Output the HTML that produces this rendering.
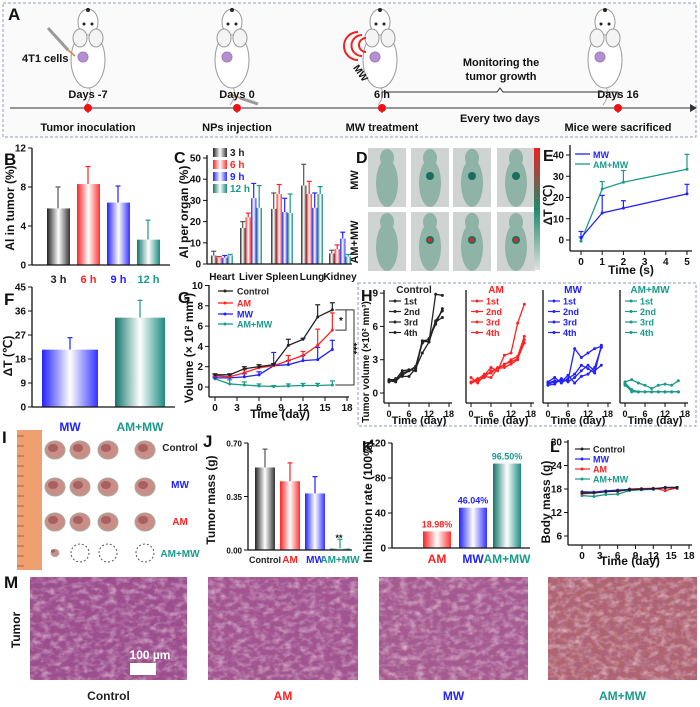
<!DOCTYPE html>
<html><head><meta charset="utf-8">
<style>
body{margin:0;background:#fff}
svg{display:block;font-family:"Liberation Sans",Arial,sans-serif;font-weight:bold}
</style></head>
<body>
<svg id="fig" width="700" height="707" viewBox="0 0 700 707" xmlns="http://www.w3.org/2000/svg">
<defs>
<linearGradient id="gK"><stop offset="0" stop-color="#222"/><stop offset="0.5" stop-color="#fff"/><stop offset="1" stop-color="#333"/></linearGradient>
<linearGradient id="gR"><stop offset="0" stop-color="#f22"/><stop offset="0.5" stop-color="#fff"/><stop offset="1" stop-color="#f33"/></linearGradient>
<linearGradient id="gB"><stop offset="0" stop-color="#22f"/><stop offset="0.5" stop-color="#fff"/><stop offset="1" stop-color="#33f"/></linearGradient>
<linearGradient id="gT"><stop offset="0" stop-color="#14766c"/><stop offset="0.5" stop-color="#fff"/><stop offset="1" stop-color="#1a8a80"/></linearGradient>
<linearGradient id="cbar" x1="0" y1="0" x2="0" y2="1"><stop offset="0" stop-color="#f02020"/><stop offset="0.5" stop-color="#1f8a6a"/><stop offset="1" stop-color="#e0e0e0"/></linearGradient>
<filter id="tex" x="0" y="0" width="1" height="1"><feTurbulence type="fractalNoise" baseFrequency="0.12 0.18" numOctaves="3" seed="4"/><feColorMatrix type="matrix" values="0 0 0 0 1  0 0 0 0 0.88  0 0 0 0 0.95  1.6 0 0 0 -0.65"/></filter>
<filter id="tex2" x="0" y="0" width="1" height="1"><feTurbulence type="fractalNoise" baseFrequency="0.25 0.12" numOctaves="2" seed="9"/><feColorMatrix type="matrix" values="0 0 0 0 0.35  0 0 0 0 0.1  0 0 0 0 0.35  1.5 0 0 0 -0.6"/></filter>
</defs>
</svg>
<script>
const NS='http://www.w3.org/2000/svg';
const svg=document.getElementById('fig');

// ---------- data ----------
const bCats=['3 h','6 h','9 h','12 h'];
const bVals=[5.8,8.3,6.4,2.6];
const bErr=[2.2,1.8,1.7,2.0];
const cCats=['Heart','Liver','Spleen','Lung','Kidney'];
const c3h=[4,17,26,37,5];
const c6h=[3,22,33,33,7];
const c9h=[3,31,24.5,26.5,12];
const c12h=[4,26.5,24,33,3.5];
const cErr3h=[2,3,7.5,10,1.5];
const cErr6h=[0.5,2,4.5,6,2];
const cErr9h=[1,7,6.5,7,3];
const cErr12h=[0.5,10.5,9,3.5,1];
const eTimes=[0,1,2,5];
const eMW=[1,12.7,15,21.7];
const eAMMW=[-0.5,24,27.2,33.3];
const eMWerr=[3,8.3,3.5,4.5];
const eAMMWerr=[2,3.5,5.5,7];
const fCats=['MW','AM+MW'];
const fVals=[21.5,33.5];
const fErr=[4.5,6.5];
const days=[0,2,4,6,8,10,12,14,16];
const gControl=[1.2,1.2,1.8,2.0,2.2,4.1,4.7,6.9,7.6];
const gAM=[1.1,1.0,1.4,1.9,2.1,2.6,3.1,4.1,5.6];
const gMW=[0.9,0.9,1.0,1.2,2.1,2.2,2.6,2.7,3.7];
const gAMMW=[0.8,0.3,0.2,0.1,0.05,0.1,0.15,0.15,0.2];
const gControlErr=[0.1,0.1,0.2,0.2,0.1,0.6,0.1,1.2,0.7];
const gAMErr=[0.1,0.2,0.3,0.3,0.2,0.5,0.4,1.6,1.7];
const gMWErr=[0.1,0.3,0.3,0.3,1.3,0.4,0.5,1.2,0.9];
const gAMMWErr=[0.1,0.4,0.3,0.2,0.1,0.2,0.2,0.2,0.4];
const hControl=[[1.2,1.2,2.0,2.1,2.0,4.7,4.6,8.9,8.8],[1.1,1.1,1.6,2.0,2.3,4.7,4.8,6.5,7.4],[1.0,1.3,1.5,1.5,2.2,3.6,4.6,6.4,6.8],[1.1,1.0,1.8,2.0,2.4,4.5,4.9,6.2,7.6]];
const hAM=[[1.4,0.9,1.6,2.3,2.0,3.4,3.6,6.3,8.0],[1.0,1.2,1.7,1.8,2.3,2.5,3.0,3.3,5.1],[0.9,1.1,1.4,2.0,2.1,2.6,2.8,3.1,4.5],[1.0,1.3,1.5,1.4,2.2,2.3,2.6,3.0,4.8]];
const hMW=[[0.8,1.0,1.2,1.1,4.0,3.2,3.6,4.0,4.2],[1.0,1.4,0.9,1.3,1.7,2.5,2.2,1.8,4.3],[0.7,0.8,1.3,1.0,1.4,2.0,2.5,2.0,2.5],[0.9,1.1,1.0,1.6,0.9,1.5,1.7,2.3,4.1]];
const hAMMW=[[1.0,1.2,0.9,0.7,0.4,0.7,0.8,0.7,1.1],[0.8,0.1,0.1,0.1,0.1,0.1,0.1,0.1,0.1],[0.9,0.3,0.1,0.1,0.1,0.1,0.1,0.1,0.1],[0.7,0.2,0.1,0.1,0.1,0.1,0.1,0.1,0.1]];
const jCats=['Control','AM','MW','AM+MW'];
const jVals=[0.54,0.45,0.37,0.01];
const jErr=[0.12,0.12,0.11,0.06];
const kCats=['AM','MW','AM+MW'];
const kVals=[18.98,46.04,96.5];
const kLabels=['18.98%','46.04%','96.50%'];
const lControl=[17,17,17.3,17.5,17.8,18,18.1,18.3,18.4];
const lMW=[17.3,17.2,17.5,17.7,17.9,17.9,18.0,18.4,18.4];
const lAM=[16.8,17,17.4,17.4,18,18.1,18.2,17.6,18.3];
const lAMMW=[16.3,16.1,16.6,16.7,17.6,17.8,17.9,18.4,18.1];

const K='#222',R='#f22',B='#22f',T='#1a9a8a';

// ---------- helpers ----------
function mk(tag,attrs,name,parent){
  const e=document.createElementNS(NS,tag);
  for(const k in attrs) e.setAttribute(k,attrs[k]);
  
  
  (parent||svg).appendChild(e);
  return e;
}
function tx(x,y,s,size,fill,name,anchor,rot){
  const a={x:x,y:y,'font-size':size,fill:fill||'#111','text-anchor':anchor||'middle'};
  if(rot) a.transform='rotate('+rot+' '+x+' '+y+')';
  const e=mk('text',a,name);
  e.textContent=s;
  return e;
}
function line(x1,y1,x2,y2,st,w,name){return mk('line',{x1:x1,y1:y1,x2:x2,y2:y2,stroke:st,'stroke-width':w||1},name);}
function yAxis(x,y1,y2,ticks,fy,fmt,size,name){
  line(x,y1,x,y2,'#111',1.3,name+'-line');
  ticks.forEach(t=>{const y=fy(t);line(x-4,y,x,y,'#111',1,name+'-tick');tx(x-6,y+3.5,fmt?fmt(t):t,size||10,'#111',name+'-label','end');});
}
function xAxis(y,x1,x2,ticks,fx,size,name){
  line(x1,y,x2,y,'#111',1.3,name+'-line');
  ticks.forEach(t=>{const x=fx(t);line(x,y,x,y+4,'#111',1,name+'-tick');tx(x,y+14,t,size||10,'#111',name+'-label');});
}
function errBar(x,y1,y2,c,name){line(x,y1,x,y2,c,1.2,name);line(x-2.5,y2,x+2.5,y2,c,1.2,name+'-cap');}
function series(fx,fy,xs,ys,c,name,errs){
  const pts=xs.map((d,i)=>fx(d)+','+fy(ys[i])).join(' ');
  mk('polyline',{points:pts,fill:'none',stroke:c,'stroke-width':1.3},name+'-line');
  xs.forEach((d,i)=>{
    if(errs) errBar(fx(d),fy(ys[i]),fy(ys[i]+errs[i]),c,name+'-error');
    mk('circle',{cx:fx(d),cy:fy(ys[i]),r:1.5,fill:c},name+'-point');
  });
}
function letter(x,y,s,sz){tx(x,y,s,sz||17,'#111','panel-letter-'+s,'start');}

// ---------- Panel A ----------
mk('rect',{x:3,y:3,width:693,height:134,fill:'#fafafa',stroke:'#8f9bbd','stroke-dasharray':'3 2'},'panel-a-box');
letter(8,20,'A');
function mouse(cx,name){
  const g=mk('g',{},name);
  mk('path',{d:`M${cx} 85 q6 10 -2 20`,fill:'none',stroke:'#aaa'},name+'-tail',g);
  mk('ellipse',{cx:cx,cy:60,rx:17,ry:28,fill:'#fff',stroke:'#999'},name+'-body',g);
  mk('ellipse',{cx:cx,cy:22,rx:10,ry:13,fill:'#fff',stroke:'#999'},name+'-head',g);
  mk('ellipse',{cx:cx-8,cy:38,rx:7,ry:9,fill:'#f4f4f4',stroke:'#999'},name+'-ear',g);
  mk('ellipse',{cx:cx+8,cy:38,rx:7,ry:9,fill:'#f4f4f4',stroke:'#999'},name+'-ear',g);
  mk('circle',{cx:cx,cy:10,r:2,fill:'#222'},name+'-nose',g);
  mk('circle',{cx:cx-4,cy:24,r:1.5,fill:'#222'},name+'-eye',g);
  mk('circle',{cx:cx+4,cy:24,r:1.5,fill:'#222'},name+'-eye',g);
  mk('circle',{cx:cx-5,cy:57,r:5,fill:'#b58fd0',stroke:'#a07bbf'},name+'-tumor',g);
}
mouse(88,'mouse-inoculation');mouse(232,'mouse-injection');mouse(380,'mouse-mw');mouse(605,'mouse-sacrifice');
line(48,28,68,50,'#999',3,'syringe-1');line(68,50,75,56,'#c84',1.5,'needle-1');
line(240,98,258,104,'#999',3,'syringe-2');line(232,95,240,98,'#c84',1.5,'needle-2');
for(let i=0;i<3;i++){mk('path',{d:`M${366-i*4} ${38-i*3} a${6+i*4} ${6+i*4} 0 0 0 0 ${14+i*7}`,fill:'none',stroke:'#e22','stroke-width':2},'mw-wave');}
tx(358,75,'MW',10,'#111','mw-label','middle',55);
tx(22,62,'4T1 cells',11,'#111','cells-label','start');
line(10,108,690,108,'#333',1,'timeline');
mk('path',{d:'M690 104 L697 108 L690 112 Z',fill:'#333'},'timeline-arrow');
[[88,'Days  -7','Tumor inoculation'],[237,'Days  0','NPs injection'],[382,'6 h','MW treatment'],[618,'Days  16','Mice were sacrificed']].forEach(p=>{
  line(p[0],108,p[0],113,'#333',1,'timeline-tick');
  mk('circle',{cx:p[0],cy:108,r:4,fill:'#e11'},'timeline-dot');
  tx(p[0],98,p[1],11,'#111','timeline-day');
  tx(p[0],131,p[2],11,'#111','timeline-event');
});
mk('path',{d:'M382 98 v-6 H497 l3 -4 l3 4 H618 v6',fill:'none',stroke:'#333'},'monitor-bracket');
tx(501,66,'Monitoring the',11,'#111','monitor-label-1');
tx(501,80,'tumor growth',11,'#111','monitor-label-2');
tx(500,122,'Every two days',11,'#111','every-two-days');

// ---------- Panel B ----------
letter(4,165,'B');
const bY=v=>265-v*117/12;
const bGr=['gK','gR','gB','gT'],bCol=[K,R,B,T];
bVals.forEach((v,i)=>{const x=47+i*30;
  errBar(x+11,bY(v),bY(v+bErr[i]),bCol[i]==K?'#555':bCol[i],'b-error');
  mk('rect',{x:x,y:bY(v),width:23,height:265-bY(v),fill:'url(#'+bGr[i]+')'},'b-bar-'+bCats[i].replace(' ',''));
  tx(x+11.5,283,bCats[i],11,bCol[i],'b-category-label');
});
yAxis(32,148,265,[0,4,8,12],bY,null,10,'b-y-axis');
line(32,265,170,265,'#111',1.3,'b-x-axis');
tx(14,208,'Al in tumor (%)',12,'#111','b-y-title','middle',-90);

// ---------- Panel C ----------
letter(174,163,'C',16);
const cY=v=>264-v*106/50;
const cCenters=[222,251,282,312,340];
const cSeries=[c3h,c6h,c9h,c12h],cErrs=[cErr3h,cErr6h,cErr9h,cErr12h];
cSeries.forEach((s,k)=>{s.forEach((v,i)=>{const x=cCenters[i]-11+k*5.5;
  errBar(x+2.7,cY(v),cY(v+cErrs[k][i]),bCol[k]==K?'#555':bCol[k],'c-error');
  mk('rect',{x:x,y:cY(v),width:5.5,height:264-cY(v),fill:'url(#'+bGr[k]+')'},'c-bar');
});});
yAxis(207,155,264,[0,10,20,30,40,50],cY,null,10,'c-y-axis');
line(207,264,352,264,'#111',1.3,'c-x-axis');
cCats.forEach((c,i)=>tx(cCenters[i],280,c,10,'#111','c-category-label'));
tx(188,212,'Al per organ (%)',12,'#111','c-y-title','middle',-90);
['3 h','6 h','9 h','12 h'].forEach((l,k)=>{
  mk('rect',{x:213,y:148+k*12,width:14,height:9,fill:'url(#'+bGr[k]+')'},'c-legend-swatch');
  tx(230,156+k*12,l,10,bCol[k],'c-legend-label','start');
});

// ---------- Panel D ----------
letter(356,163,'D',16);
tx(358,180,'MW',11,'#111','d-row-label-mw','middle',-90);
tx(358,242,'AM+MW',11,'#111','d-row-label-ammw','middle',-90);
[368,411,453,497].forEach((x,c)=>{[148,212].forEach((y,r)=>{
  mk('rect',{x:x,y:y,width:38,height:59,fill:'#cfd3d1'},'d-image');
  mk('ellipse',{cx:x+19,cy:y+35,rx:11,ry:24,fill:'#8fb3a6'},'d-mouse');
  mk('ellipse',{cx:x+19,cy:y+10,rx:7,ry:9,fill:'#8fb3a6'},'d-mouse-head');
  if(c>0){mk('circle',{cx:x+19,cy:y+28,r:4,fill:'#1b6e5c'},'d-hotspot');
    if(r==1) mk('circle',{cx:x+19,cy:y+28,r:2,fill:'#e22'},'d-hotspot-core');}
});});
mk('rect',{x:534,y:148,width:6,height:122,fill:'url(#cbar)'},'d-colorbar');

// ---------- Panel E ----------
letter(543,161,'E',16);
const eX=t=>581+t*21.2,eY=v=>240-v*85/40;
series(eX,eY,eTimes,eAMMW,T,'e-ammw',eAMMWerr);
series(eX,eY,eTimes,eMW,B,'e-mw',eMWerr);
yAxis(570,145,251,[0,10,20,30,40],eY,null,10,'e-y-axis');
xAxis(251,570,692,[0,1,2,3,4,5],eX,10,'e-x-axis');
tx(631,274,'Time (s)',12,'#111','e-x-title');
tx(552,205,'ΔT (℃)',12,'#111','e-y-title','middle',-90);
line(575,154,590,154,B,1.3,'e-legend-line');tx(593,158,'MW',9,B,'e-legend-label','start');
line(575,164,590,164,T,1.3,'e-legend-line');tx(593,168,'AM+MW',9,T,'e-legend-label','start');

// ---------- Panel F ----------
letter(4,305,'F');
const fY=v=>407-v*96/36;
const fGr=['gB','gT'],fCol=[B,T],fX=[42,115],fW=[56,50];
fVals.forEach((v,i)=>{
  errBar(fX[i]+fW[i]/2,fY(v),fY(v+fErr[i]),fCol[i],'f-error');
  mk('rect',{x:fX[i],y:fY(v),width:fW[i],height:407-fY(v),fill:'url(#'+fGr[i]+')'},'f-bar-'+fCats[i]);
  tx(fX[i]+fW[i]/2,431,fCats[i],12,fCol[i],'f-category-label');
});
yAxis(32,287,407,[0,9,18,27,36,45],fY,null,10,'f-y-axis');
line(32,407,175,407,'#111',1.3,'f-x-axis');
tx(12,356,'ΔT (℃)',12,'#111','f-y-title','middle',-90);

// ---------- Panel G ----------
letter(178,303,'G',16);
const gX=d=>215+d*132/18,gY=v=>387-v*10.15;
series(gX,gY,days,gAMMW,T,'g-ammw',gAMMWErr);
series(gX,gY,days,gMW,B,'g-mw',gMWErr);
series(gX,gY,days,gAM,R,'g-am',gAMErr);
series(gX,gY,days,gControl,K,'g-control',gControlErr);
yAxis(209,285,397,[0,2,4,6,8,10],gY,null,10,'g-y-axis');
xAxis(397,209,349,[0,3,6,9,12,15,18],gX,10,'g-x-axis');
tx(280,418,'Time (day)',12,'#111','g-x-title');
tx(193,348,'Volume (× 10² mm³)',12,'#111','g-y-title','middle',-90);
[['Control',K,291],['AM',R,303],['MW',B,314],['AM+MW',T,324]].forEach(l=>{
  line(218,l[2],233,l[2],l[1],1.3,'g-legend-line');mk('circle',{cx:225,cy:l[2],r:1.5,fill:l[1]},'g-legend-marker');
  tx(237,l[2]+3.5,l[0],9,l[1],'g-legend-label','start');
});
mk('path',{d:`M${gX(16)+3} ${gY(7.6)} H354 V${gY(0.2)} H${gX(16)+3}`,fill:'none',stroke:'#333'},'g-sig-bracket');
mk('path',{d:`M${gX(16)+3} ${gY(5.6)} H346 V${gY(7.6)}`,fill:'none',stroke:'#333'},'g-sig-bracket-inner');
tx(341,gY(6.6)+4,'*',10,'#111','g-sig-star','middle');
tx(350,gY(3.8),'***',10,'#111','g-sig-stars','middle',90);

// ---------- Panel H ----------
mk('rect',{x:358,y:283,width:338,height:143,fill:'none',stroke:'#8f9bbd','stroke-dasharray':'3 2'},'panel-h-box');
letter(361,301,'H',16);
const hY=v=>393-v*11.1;
const hPanels=[[389,'Control',K,hControl],[471,'AM',R,hAM],[548,'MW',B,hMW],[625,'AM+MW',T,hAMMW]];
hPanels.forEach((p,k)=>{
  const x0=p[0],hX=d=>x0+d*60/18;
  tx(x0+25,293,p[1],10,p[2],'h-title');
  p[3].forEach((s,j)=>series(hX,hY,days,s,p[2],'h-'+p[1]+'-run'+(j+1)));
  line(x0-5,290,x0-5,403,'#111',1.3,'h-y-axis-line');
  xAxis(403,x0-5,x0+63,[0,6,12,18],hX,9,'h-x-axis');
  tx(x0+30,424,'Time (day)',11,'#111','h-x-title');
  ['1st','2nd','3rd','4th'].forEach((l,j)=>{const y=301+j*10.5;
    line(x0,y,x0+12,y,p[2],1.2,'h-legend-line');mk('circle',{cx:x0+6,cy:y,r:1.5,fill:p[2]},'h-legend-marker');
    tx(x0+15,y+3.5,l,9,p[2],'h-legend-label','start');});
});
[0,3,6,9].forEach(t=>{line(380,hY(t),384,hY(t),'#111',1,'h-y-tick');tx(378,hY(t)+3.5,t,10,'#111','h-y-label','end');});
tx(369,362,'Tumor volume (×10² mm³)',10,'#111','h-y-title','middle',-90);

// ---------- Panel I ----------
letter(2,443,'I');
mk('rect',{x:17,y:430,width:25,height:140,fill:'#f0a070'},'i-ruler');
for(let i=0;i<14;i++) line(17,436+i*10,24,436+i*10,'#b06040',1,'i-ruler-tick');
const iCols=[55,80,108,145],iRows=[450,487,522,553];
iRows.forEach((y,r)=>iCols.forEach((x,c)=>{
  if(r==3&&c>0){mk('circle',{cx:x,cy:y,r:9,fill:'none',stroke:'#555','stroke-dasharray':'2 2'},'i-empty-site');}
  else{const s=r==3?4:10;mk('ellipse',{cx:x,cy:y,rx:s,ry:s*0.9,fill:'#c98f86',stroke:'#a8a9a0'},'i-tumor');
    mk('ellipse',{cx:x-2,cy:y-2,rx:s*0.5,ry:s*0.4,fill:'#a86060'},'i-tumor-shade');}
}));
[['Control',K,451],['MW',B,488],['AM',R,525],['AM+MW',T,557]].forEach(l=>tx(180,l[2],l[0],10,l[1],'i-label'));

// ---------- Panel J ----------
letter(203,447,'J');
const jY=v=>550-v*107/0.7;
jVals.forEach((v,i)=>{const x=255+i*25;
  errBar(x+10,jY(v),jY(v+jErr[i]),bCol[i]==K?'#555':bCol[i],'j-error');
  mk('rect',{x:x,y:jY(v),width:20,height:550-jY(v),fill:'url(#'+bGr[i]+')'},'j-bar-'+jCats[i]);
  tx(x+10,563,jCats[i],i==0?9:10,bCol[i],'j-category-label');
});
tx(339,541,'**',9,'#111','j-sig-stars');
yAxis(248,443,550,[0,0.35,0.7],jY,t=>t.toFixed(2),8,'j-y-axis');
line(248,550,352,550,'#111',1.3,'j-x-axis');
tx(215,500,'Tumor mass (g)',12,'#111','j-y-title','middle',-90);

// ---------- Panel K ----------
letter(362,452,'K',16);
const kY=v=>548-v*35/40;
const kGr=['gR','gB','gT'],kCol=[R,B,T],kX=[423,459,493];
kVals.forEach((v,i)=>{
  mk('rect',{x:kX[i],y:kY(v),width:28,height:548-kY(v),fill:'url(#'+kGr[i]+')'},'k-bar-'+kCats[i]);
  tx(kX[i]+14,kY(v)-4,kLabels[i],9,kCol[i],'k-value-label');
  tx(kX[i]+14,563,kCats[i],12,kCol[i],'k-category-label');
});
yAxis(392,443,548,[0,40,80,120],kY,null,10,'k-y-axis');
line(392,548,530,548,'#111',1.3,'k-x-axis');
tx(372,502,'Inhibition rate (100%)',12,'#111','k-y-title','middle',-90);

// ---------- Panel L ----------
letter(550,452,'L',16);
const lX=d=>582+d*107/18,lY=v=>536-(v-6)*47/12;
series(lX,lY,days,lAMMW,T,'l-ammw');
series(lX,lY,days,lAM,R,'l-am');
series(lX,lY,days,lMW,B,'l-mw');
series(lX,lY,days,lControl,K,'l-control');
yAxis(568,440,545,[6,12,18,24,30],lY,null,10,'l-y-axis');
xAxis(545,568,692,[0,3,6,9,12,15,18],lX,10,'l-x-axis');
tx(630,565,'Time (day)',12,'#111','l-x-title');
tx(550,502,'Body mass (g)',12,'#111','l-y-title','middle',-90);
[['Control',K,449],['MW',B,459],['AM',R,469],['AM+MW',T,479]].forEach(l=>{
  line(575,l[2],590,l[2],l[1],1.2,'l-legend-line');mk('circle',{cx:582,cy:l[2],r:1.5,fill:l[1]},'l-legend-marker');
  tx(593,l[2]+3.5,l[0],9,l[1],'l-legend-label','start');
});

// ---------- Panel M ----------
letter(4,588,'M');
tx(20,630,'Tumor',12,'#111','m-row-label','middle',-90);
[[30,157,'#9c4e8c','Control',K],[208,150,'#a2548e','AM',R],[379,149,'#a65b8f','MW',B],[548,149,'#b0656f','AM+MW',T]].forEach(p=>{
  mk('rect',{x:p[0],y:577,width:p[1],height:103,fill:p[2]},'m-histology-'+p[3]);
  mk('rect',{x:p[0],y:577,width:p[1],height:103,fill:'#fff',filter:'url(#tex)',opacity:0.7},'m-histology-texture');
  mk('rect',{x:p[0],y:577,width:p[1],height:103,fill:'#000',filter:'url(#tex2)',opacity:0.5},'m-histology-nuclei');
  tx(p[0]+p[1]/2,700,p[3],12,p[4],'m-label');
});
mk('rect',{x:130,y:663,width:26,height:12,fill:'#fff'},'m-scale-bar');
tx(150,659,'100 µm',12,'#fff','m-scale-label');
</script>
</body></html>
